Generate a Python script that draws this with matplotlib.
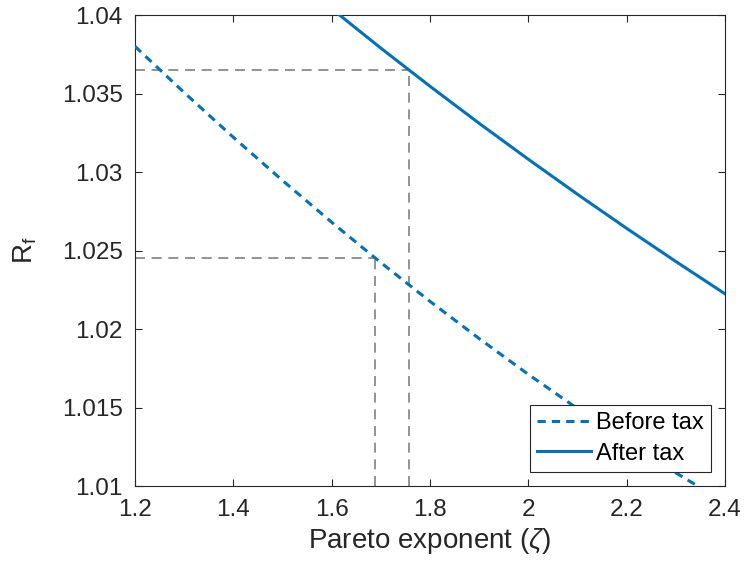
import matplotlib
matplotlib.use("Agg")
import matplotlib.pyplot as plt

plt.rcParams['font.family'] = ['Liberation Sans', 'DejaVu Sans']
plt.rcParams['mathtext.fontset'] = 'custom'
plt.rcParams['mathtext.rm'] = 'Liberation Sans'
plt.rcParams['mathtext.it'] = 'Liberation Sans:italic'

x_before = [1.2, 1.3, 1.4, 1.5, 1.6, 1.7, 1.8, 1.9, 2.0, 2.1, 2.2, 2.3, 2.4]
rf_before = [1.0380, 1.03506, 1.03221, 1.02946, 1.02680, 1.02423, 1.02176,
             1.01939, 1.01711, 1.01493, 1.01284, 1.01084, 1.00894]
x_after = [1.6, 1.7, 1.8, 1.9, 2.0, 2.1, 2.2, 2.3, 2.4]
rf_after = [1.0404, 1.03789, 1.03546, 1.03310, 1.03081, 1.02858, 1.02641, 1.02430, 1.02224]

zeta_before_mark = 1.689
rf_before_mark = 1.0245
zeta_after_mark = 1.757
rf_after_mark = 1.0365

xticks = [1.2, 1.4, 1.6, 1.8, 2.0, 2.2, 2.4]
xticklabels = ['1.2', '1.4', '1.6', '1.8', '2', '2.2', '2.4']
yticks = [1.01, 1.015, 1.02, 1.025, 1.03, 1.035, 1.04]
yticklabels = ['1.01', '1.015', '1.02', '1.025', '1.03', '1.035', '1.04']

xmin, xmax = 1.2, 2.4
ymin, ymax = 1.01, 1.04

blue = '#0072BD'
dark = '#262626'

fig = plt.figure(figsize=(7.45, 5.71), dpi=100)
ax = fig.add_axes([135/745, 85/571, 590/745, 471/571])

gkw = dict(color='#808080', lw=1.2, dashes=(6, 4), zorder=1)
ax.plot([xmin, zeta_after_mark], [rf_after_mark, rf_after_mark], **gkw)
ax.plot([zeta_after_mark, zeta_after_mark], [ymin, rf_after_mark], **gkw)
ax.plot([xmin, zeta_before_mark], [rf_before_mark, rf_before_mark], **gkw)
ax.plot([zeta_before_mark, zeta_before_mark], [ymin, rf_before_mark], **gkw)

ax.plot(x_before, rf_before, color=blue, lw=2.2, dashes=(2.7, 2.0), label='Before tax', zorder=3)
ax.plot(x_after, rf_after, color=blue, lw=2.2, label='After tax', zorder=3)

ax.set_xlim(xmin, xmax)
ax.set_ylim(ymin, ymax)
ax.set_xticks(xticks)
ax.set_xticklabels(xticklabels)
ax.set_yticks(yticks)
ax.set_yticklabels(yticklabels)
ax.tick_params(direction='in', length=5, width=0.8, colors=dark, labelsize=17.5,
               top=True, right=True)
ax.tick_params(axis='x', pad=9)
ax.tick_params(axis='y', pad=9)
for s in ax.spines.values():
    s.set_color(dark)
    s.set_linewidth(0.8)

ax.set_xlabel(r'Pareto exponent ($\zeta$)', fontsize=20, color=dark, labelpad=4)
ax.set_ylabel(r'R$_\mathrm{f}$', fontsize=20, color=dark, labelpad=16)

leg = ax.legend(loc='lower right', fontsize=17, frameon=True, fancybox=False,
                edgecolor=dark, framealpha=1, borderpad=0.3, labelspacing=0.35,
                handlelength=2.3, handletextpad=0.2, borderaxespad=0.6)
leg.get_frame().set_linewidth(0.8)

fig.savefig('out.png', dpi=100)
